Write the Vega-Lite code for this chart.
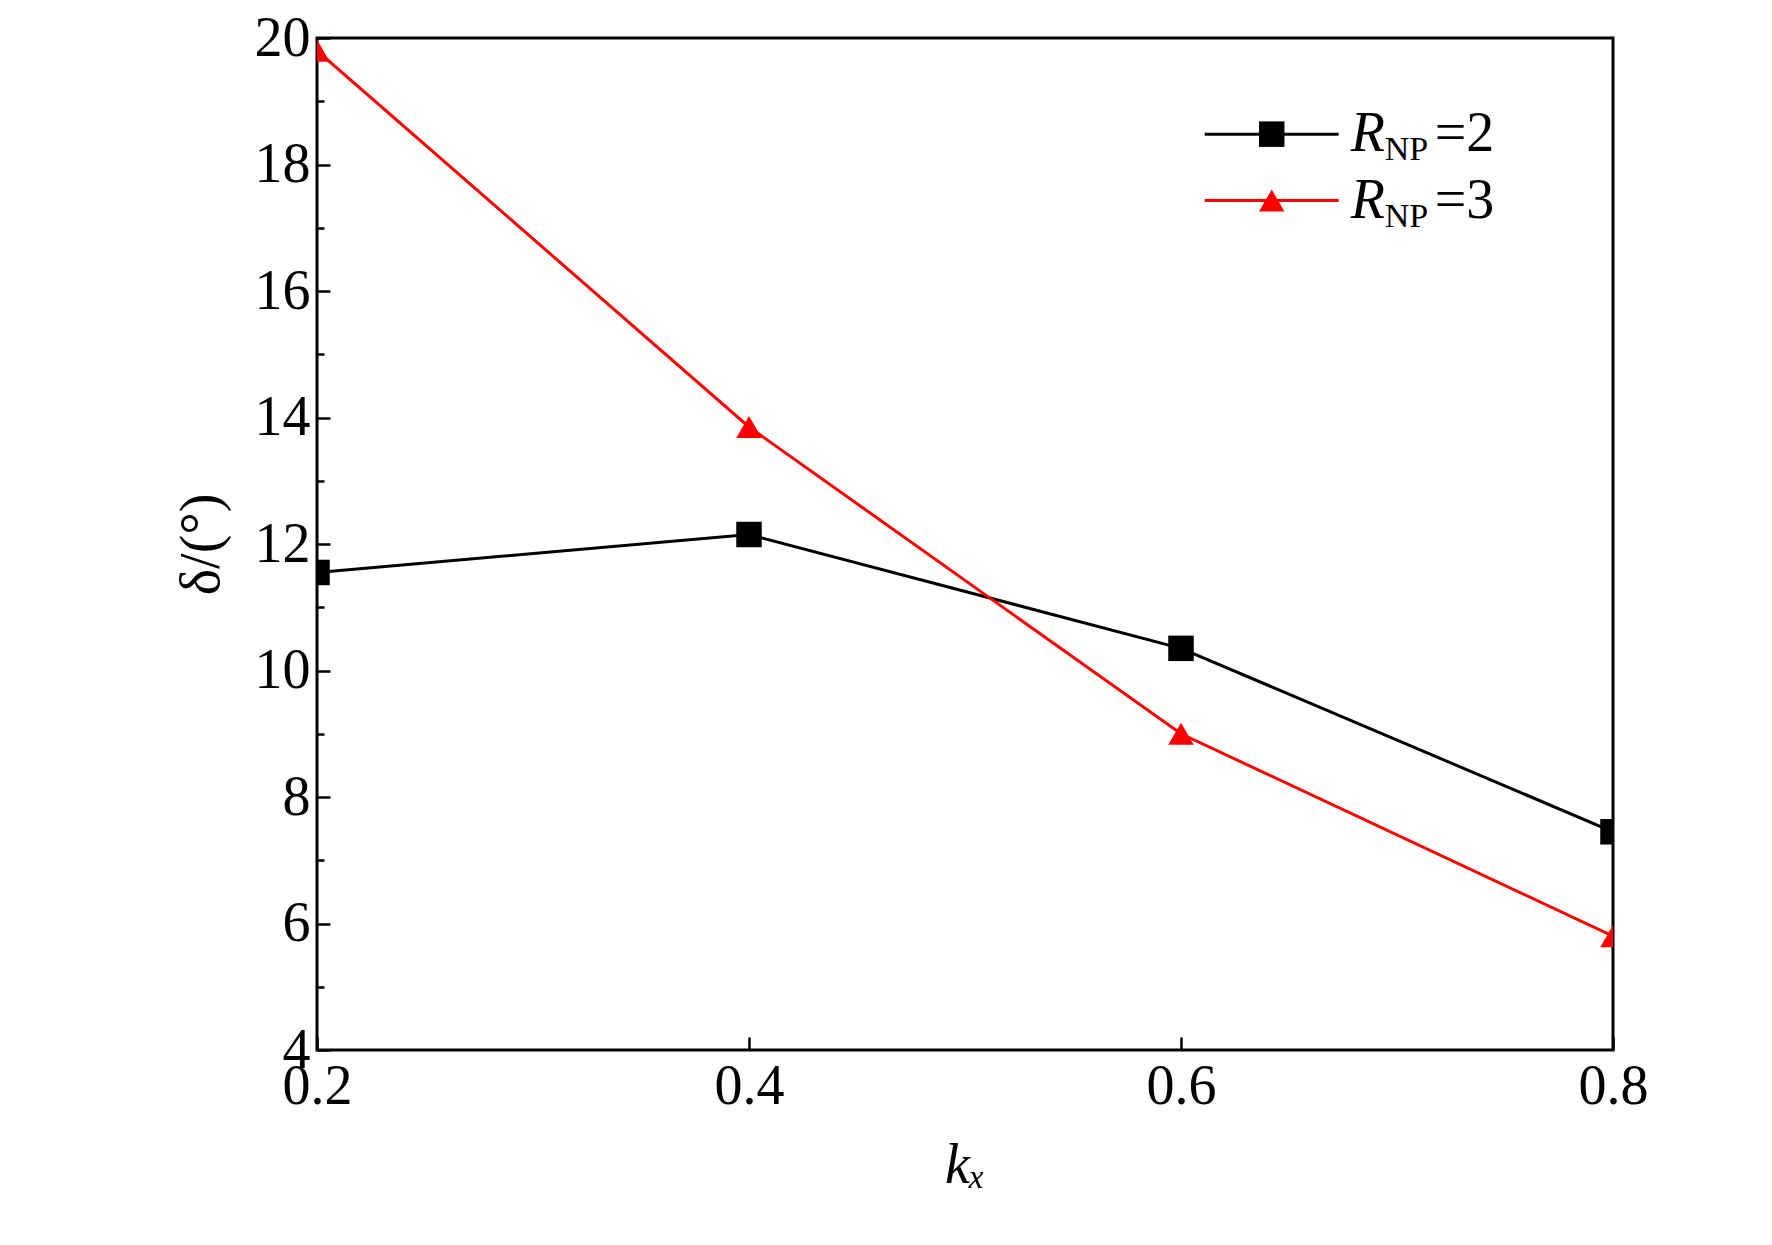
{
  "$schema": "https://vega.github.io/schema/vega-lite/v6.json",
  "width": 1296,
  "height": 1012,
  "autosize": {"type": "none"},
  "padding": {"left": 317, "top": 38, "right": 159, "bottom": 195},
  "background": "white",
  "config": {
    "view": {"stroke": "black", "strokeWidth": 3},
    "font": "Liberation Serif",
    "text": {"font": "Liberation Serif"}
  },
  "datasets": {
    "pts": [
      {"kx": 0.2, "delta": 11.55, "series": "R2"},
      {"kx": 0.4, "delta": 12.15, "series": "R2"},
      {"kx": 0.6, "delta": 10.35, "series": "R2"},
      {"kx": 0.8, "delta": 7.45, "series": "R2"},
      {"kx": 0.2, "delta": 19.8, "series": "R3"},
      {"kx": 0.4, "delta": 13.85, "series": "R3"},
      {"kx": 0.6, "delta": 9.0, "series": "R3"},
      {"kx": 0.8, "delta": 5.8, "series": "R3"}
    ],
    "leg": [
      {"kx": 0.611, "delta": 18.48, "series": "R2", "n": "=2"},
      {"kx": 0.673, "delta": 18.48, "series": "R2", "n": "=2"},
      {"kx": 0.611, "delta": 17.43, "series": "R3", "n": "=3"},
      {"kx": 0.673, "delta": 17.43, "series": "R3", "n": "=3"}
    ]
  },
  "encoding": {
    "x": {
      "field": "kx", "type": "quantitative",
      "scale": {"domain": [0.2, 0.8], "nice": false},
      "axis": {
        "values": [0.2, 0.4, 0.6, 0.8], "format": ".1f", "labelFlush": false,
        "grid": false, "domain": false, "tickColor": "black", "tickWidth": 2.5,
        "tickSize": -13, "labelFontSize": 56, "labelFont": "Liberation Serif", "labelColor": "black", "labelPadding": 22,
        "title": "kₓ", "titleFontSize": 56, "titleFont": "Liberation Serif", "titleFontStyle": "italic", "titleFontWeight": "normal",
        "titleColor": "black", "titlePadding": 24
      }
    },
    "y": {
      "field": "delta", "type": "quantitative",
      "scale": {"domain": [4, 20], "nice": false},
      "axis": {
        "values": [4,5,6,7,8,9,10,11,12,13,14,15,16,17,18,19,20],
        "labelExpr": "datum.value % 2 ? '' : datum.label", "labelFlush": false,
        "tickSize": {"condition": {"test": "datum.value % 2", "value": -7}, "value": -13},
        "grid": false, "domain": false, "tickColor": "black", "tickWidth": 2.5,
        "labelFontSize": 56, "labelFont": "Liberation Serif", "labelColor": "black", "labelPadding": 20,
        "title": "δ/(°)", "titleFontSize": 56, "titleFont": "Liberation Serif", "titleFontWeight": "normal",
        "titleColor": "black", "titlePadding": 24
      }
    },
    "color": {
      "field": "series", "type": "nominal",
      "scale": {"domain": ["R2", "R3"], "range": ["black", "#ff0000"]},
      "legend": null
    },
    "shape": {
      "field": "series", "type": "nominal",
      "scale": {"domain": ["R2", "R3"], "range": ["square", "triangle-up"]},
      "legend": null
    }
  },
  "layer": [
    {"data": {"name": "pts"}, "mark": {"type": "line", "strokeWidth": 3, "clip": true}},
    {"data": {"name": "pts"}, "mark": {"type": "point", "filled": true, "opacity": 1, "size": 650, "clip": true}},
    {"data": {"name": "leg"}, "mark": {"type": "line", "strokeWidth": 3}, "encoding": {"shape": null}},
    {"data": {"name": "leg"}, "transform": [{"aggregate": [{"op": "mean", "field": "kx", "as": "kx"}], "groupby": ["series", "delta"]}],
     "mark": {"type": "point", "filled": true, "opacity": 1, "size": 650}},
    {"data": {"name": "leg"}, "transform": [{"filter": "datum.kx > 0.65"}],
     "mark": {"type": "text", "text": "R", "align": "left", "dx": 12, "fontSize": 56, "fontStyle": "italic", "font": "Liberation Serif", "color": "black"},
     "encoding": {"color": {"value": "black"}, "shape": null}},
    {"data": {"name": "leg"}, "transform": [{"filter": "datum.kx > 0.65"}],
     "mark": {"type": "text", "text": "NP", "align": "left", "dx": 46, "dy": 16, "fontSize": 34, "font": "Liberation Serif", "color": "black"},
     "encoding": {"color": {"value": "black"}, "shape": null}},
    {"data": {"name": "leg"}, "transform": [{"filter": "datum.kx > 0.65"}],
     "mark": {"type": "text", "align": "left", "dx": 96, "fontSize": 56, "font": "Liberation Serif", "color": "black"},
     "encoding": {"text": {"field": "n"}, "color": {"value": "black"}, "shape": null}}
  ]
}
